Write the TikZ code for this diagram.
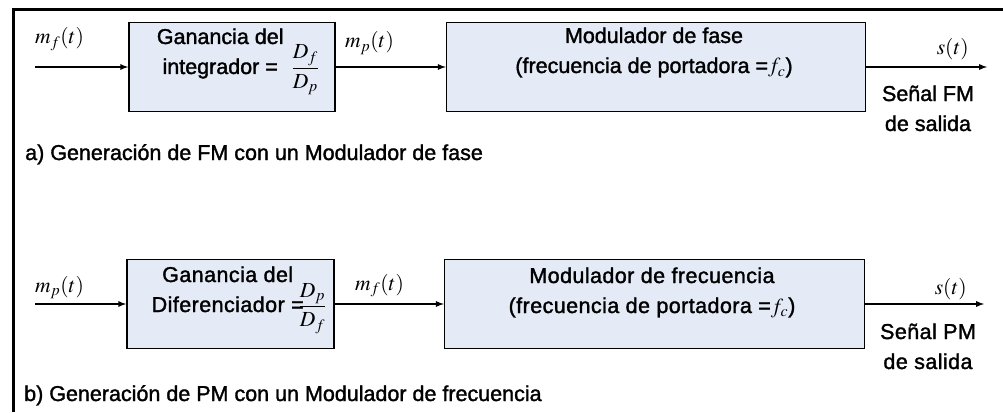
\documentclass[tikz,border=0pt]{standalone}
\usepackage{amsmath}
\usepackage{mathptmx}
\usepackage[no-math]{fontspec}
\setmainfont[FakeBold=1.5]{Liberation Sans}
\usetikzlibrary{positioning}
\definecolor{bloquefill}{RGB}{228,234,246}
\tikzset{>=latex}

\begin{document}
\begin{tikzpicture}[x=1pt, y=-1pt, font=\fontsize{21.5}{30}\selectfont,
    bloque/.style={draw, line width=1.6pt, fill=bloquefill, minimum height=89pt, inner sep=0pt},
    senal/.style={line width=1.7pt, ->},
    espaciado/.style={font=\fontsize{21.5}{30}\selectfont\addfontfeature{LetterSpace=2}}]
  \useasboundingbox (0,0) rectangle (1003,412);
  \draw[line width=3pt] (13,412) |- (1003,10);

  % a) FM con modulador de fase
  \node[bloque, minimum width=206pt] (integ) at (232,67) {};
  \node[bloque, minimum width=419pt, right=110pt of integ] (modfase) {};
  \node[anchor=base, inner sep=0pt] (integtxt) at (238,74) {\begin{tabular}[b]{@{}c@{}}Ganancia del\\integrador =\end{tabular}\hspace{8pt}$\dfrac{D_f}{D_p}$};
  \node[anchor=base, inner sep=0pt] (modfasetxt) at (654,73) {\begin{tabular}[b]{@{}c@{}}Modulador de fase\\(frecuencia de portadora =$f_c$)\end{tabular}};
  \coordinate (entA) at (35,67);
  \coordinate (salA) at (987,67);
  \draw[senal] (entA) -- (integ);
  \draw[senal] (integ) -- (modfase);
  \draw[senal] (modfase) -- (salA);
  \node[anchor=base west, inner sep=0pt] (mfA) at (35,44) {$m_f(t)$};
  \node[anchor=base west, inner sep=0pt] (mpA) at (345,48) {$m_p(t)$};
  \node[anchor=base east, inner sep=0pt] (sA) at (969,55) {$s(t)$};
  \node[anchor=base, inner sep=0pt] (salidaA) at (928,131) {\begin{tabular}[b]{@{}c@{}}Señal FM\\de salida\end{tabular}};
  \node[anchor=base west, inner sep=0pt] (titA) at (25,160) {a) Generación de FM con un Modulador de fase};

  % b) PM con modulador de frecuencia
  \node[bloque, minimum width=207pt] (difer) at (230.5,304) {};
  \node[bloque, minimum width=420pt, right=109pt of difer] (modfrec) {};
  \node[espaciado, anchor=base, inner sep=0pt] (difertxt) at (239,312) {\begin{tabular}[b]{@{}c@{}}Ganancia del\\Diferenciador =\end{tabular}\hspace{-5pt}$\dfrac{D_p}{D_f}$};
  \node[espaciado, anchor=base, inner sep=0pt] (modfrectxt) at (652,313) {\begin{tabular}[b]{@{}c@{}}Modulador de frecuencia\\(frecuencia de portadora =$f_c$)\end{tabular}};
  \coordinate (entB) at (35,304);
  \coordinate (salB) at (984,304);
  \draw[senal] (entB) -- (difer);
  \draw[senal] (difer) -- (modfrec);
  \draw[senal] (modfrec) -- (salB);
  \node[anchor=base west, inner sep=0pt] (mpB) at (35,292) {$m_p(t)$};
  \node[anchor=base west, inner sep=0pt] (mfB) at (355,290) {$m_f(t)$};
  \node[anchor=base east, inner sep=0pt] (sB) at (967,294) {$s(t)$};
  \node[espaciado, anchor=base, inner sep=0pt] (salidaB) at (928,369) {\begin{tabular}[b]{@{}c@{}}Señal PM\\de salida\end{tabular}};
  \node[anchor=base west, inner sep=0pt] (titB) at (24,401) {b) Generación de PM con un Modulador de frecuencia};
\end{tikzpicture}
\end{document}
